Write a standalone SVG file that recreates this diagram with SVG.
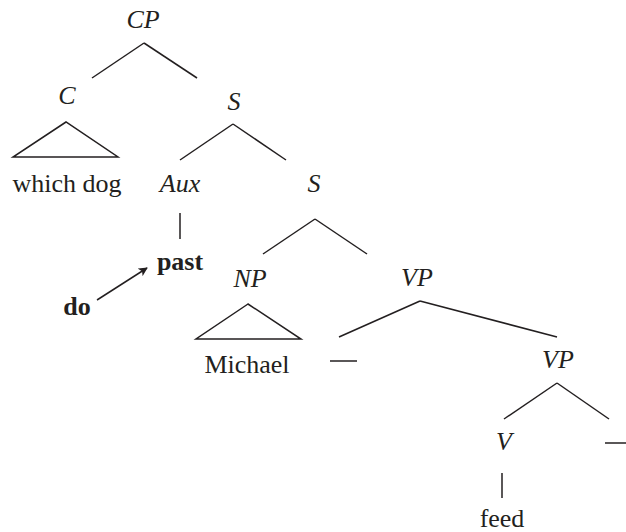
<svg xmlns="http://www.w3.org/2000/svg" width="626" height="532" viewBox="0 0 626 532">
<style>
text{font-family:"Liberation Serif","Times New Roman",serif;font-size:26px;fill:#231f20;text-anchor:middle}
.i{font-style:italic}
.b{font-weight:bold}
.e line,.e polygon{stroke:#231f20;stroke-width:1.5;fill:none}
</style>
<defs>
<marker id="ah" viewBox="0 0 10 10" refX="9" refY="5" markerWidth="9" markerHeight="9" orient="auto" markerUnits="userSpaceOnUse">
<path d="M0,0 L10,5 L0,10 L2.5,5 Z" fill="#231f20"/>
</marker>
</defs>
<g id="CP"><text class="i" x="143" y="28">CP</text></g>
<g id="C"><text class="i" x="67" y="104">C</text></g>
<g id="whichdog"><text x="67" y="192">which dog</text></g>
<g id="S1"><text class="i" x="234" y="110">S</text></g>
<g id="Aux"><text class="i" x="180" y="192">Aux</text></g>
<g id="S2"><text class="i" x="314" y="192">S</text></g>
<g id="past"><text class="b" x="180" y="270">past</text></g>
<g id="do"><text class="b" x="77" y="315">do</text></g>
<g id="NP"><text class="i" x="250" y="287">NP</text></g>
<g id="Michael"><text x="247" y="373">Michael</text></g>
<g id="VP1"><text class="i" x="417" y="286">VP</text></g>
<g id="VP2"><text class="i" x="558" y="368">VP</text></g>
<g id="V"><text class="i" x="504" y="450">V</text></g>
<g id="feed"><text x="502" y="527">feed</text></g>
<g id="edges" class="e">
<line x1="92" y1="78" x2="144" y2="43"/>
<line x1="144" y1="43" x2="197" y2="78"/>
<polygon points="66,122 13,157 118,157"/>
<line x1="180" y1="160" x2="233" y2="124"/>
<line x1="233" y1="124" x2="286" y2="160"/>
<line x1="180" y1="213" x2="180" y2="239"/>
<line x1="263" y1="254" x2="315" y2="219"/>
<line x1="315" y1="219" x2="367" y2="254"/>
<polygon points="248,304 196,339 301,339"/>
<line x1="339" y1="337" x2="420" y2="301"/>
<line x1="420" y1="301" x2="557" y2="337"/>
<line x1="330" y1="361" x2="357" y2="361"/>
<line x1="504" y1="419" x2="557" y2="383"/>
<line x1="557" y1="383" x2="609" y2="419"/>
<line x1="605" y1="443" x2="626" y2="443"/>
<line x1="502" y1="473" x2="502" y2="498"/>
<line x1="97" y1="300" x2="147" y2="268" marker-end="url(#ah)"/>
</g>
</svg>
